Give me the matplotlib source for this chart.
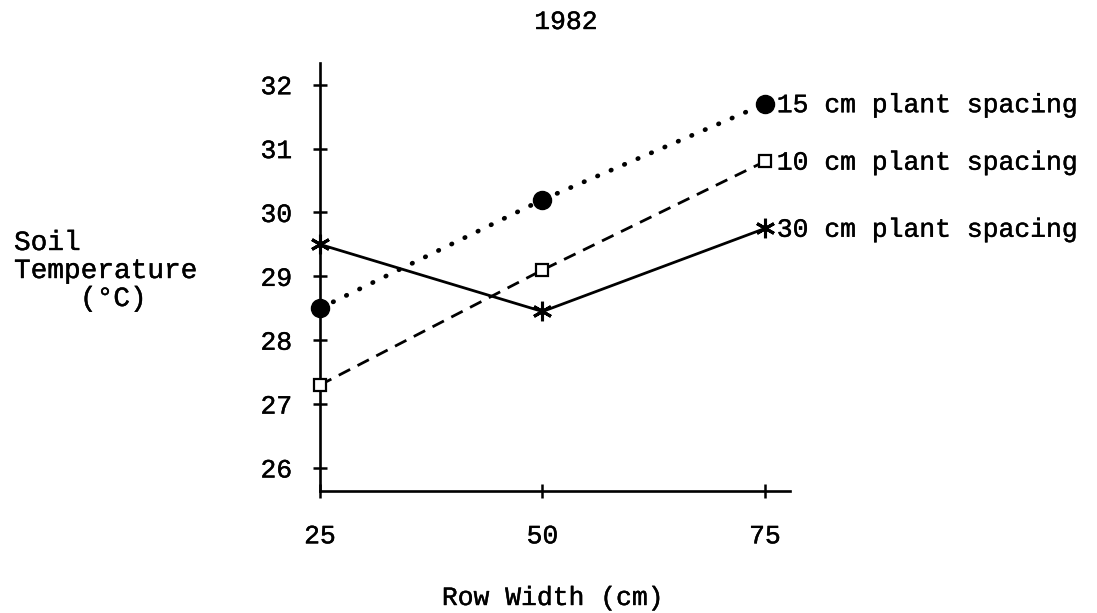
import matplotlib
matplotlib.use("Agg")
import matplotlib.pyplot as plt
import matplotlib.patheffects as pe

plt.rcParams["font.family"] = ["Liberation Mono", "DejaVu Sans Mono"]

row_width = [25, 50, 75]
temp_15cm = [28.5, 30.2, 31.7]
temp_10cm = [27.3, 29.1, 30.8]
temp_30cm = [29.5, 28.45, 29.75]
y_ticks = [26, 27, 28, 29, 30, 31, 32]

FS = 19
W, H = 1097, 613
# slightly heavier strokes, like typewriter ink
ink = [pe.withStroke(linewidth=0.3, foreground="black")]

fig = plt.figure(figsize=(W / 100, H / 100), dpi=100)
ax = fig.add_axes([320 / W, 122 / H, 470 / W, 428 / H])

# dotted line with filled circles
ax.plot(row_width, temp_15cm, color="black", lw=3.4, ls=(0, (0.1, 3.0)),
        dash_capstyle="round", marker="o", ms=13, mfc="black", mec="black",
        clip_on=False, zorder=3)
# dashed line with open squares
ax.plot(row_width, temp_10cm, color="black", lw=2.0, ls=(0, (4.6, 3.0)),
        marker="s", ms=9, mfc="white", mec="black", mew=1.6,
        clip_on=False, zorder=3)
# solid line with asterisks
ax.plot(row_width, temp_30cm, color="black", lw=2.0,
        marker=(6, 2, 0), ms=14, mec="black", mew=2.2,
        clip_on=False, zorder=3)

labels = ["15 cm plant spacing", "10 cm plant spacing", "30 cm plant spacing"]
for lab, vals in zip(labels, [temp_15cm, temp_10cm, temp_30cm]):
    ax.annotate(lab, xy=(row_width[-1], vals[-1]), xytext=(8.5, -6),
                textcoords="offset points", ha="left", va="baseline",
                fontsize=FS, annotation_clip=False, path_effects=ink)

ax.set_xlim(25, 77.81)
ax.set_ylim(25.64, 32.34)
ax.set_xticks(row_width)
ax.set_yticks(y_ticks)
ax.tick_params(axis="both", direction="inout", length=10, width=1.8,
               labelsize=FS)
ax.tick_params(axis="y", pad=15)
ax.tick_params(axis="x", pad=19)
for t in ax.get_xticklabels() + ax.get_yticklabels():
    t.set_path_effects(ink)

for side in ["top", "right"]:
    ax.spines[side].set_visible(False)
for side in ["left", "bottom"]:
    ax.spines[side].set_linewidth(1.9)

fig.text(566 / W, 1 - 22 / H, "1982", ha="center", va="center", fontsize=FS,
         path_effects=ink)
fig.text(553 / W, 1 - 598 / H, "Row Width (cm)", ha="center", va="center",
         fontsize=FS, path_effects=ink)
fig.text(14 / W, 1 - 243 / H, "Soil", ha="left", va="center", fontsize=20,
         path_effects=ink)
fig.text(14 / W, 1 - 271 / H, "Temperature", ha="left", va="center",
         fontsize=20, path_effects=ink)
fig.text(80 / W, 1 - 299 / H, "(\u00b0C)", ha="left", va="center",
         fontsize=20, path_effects=ink)

fig.savefig("out.png", dpi=100)
